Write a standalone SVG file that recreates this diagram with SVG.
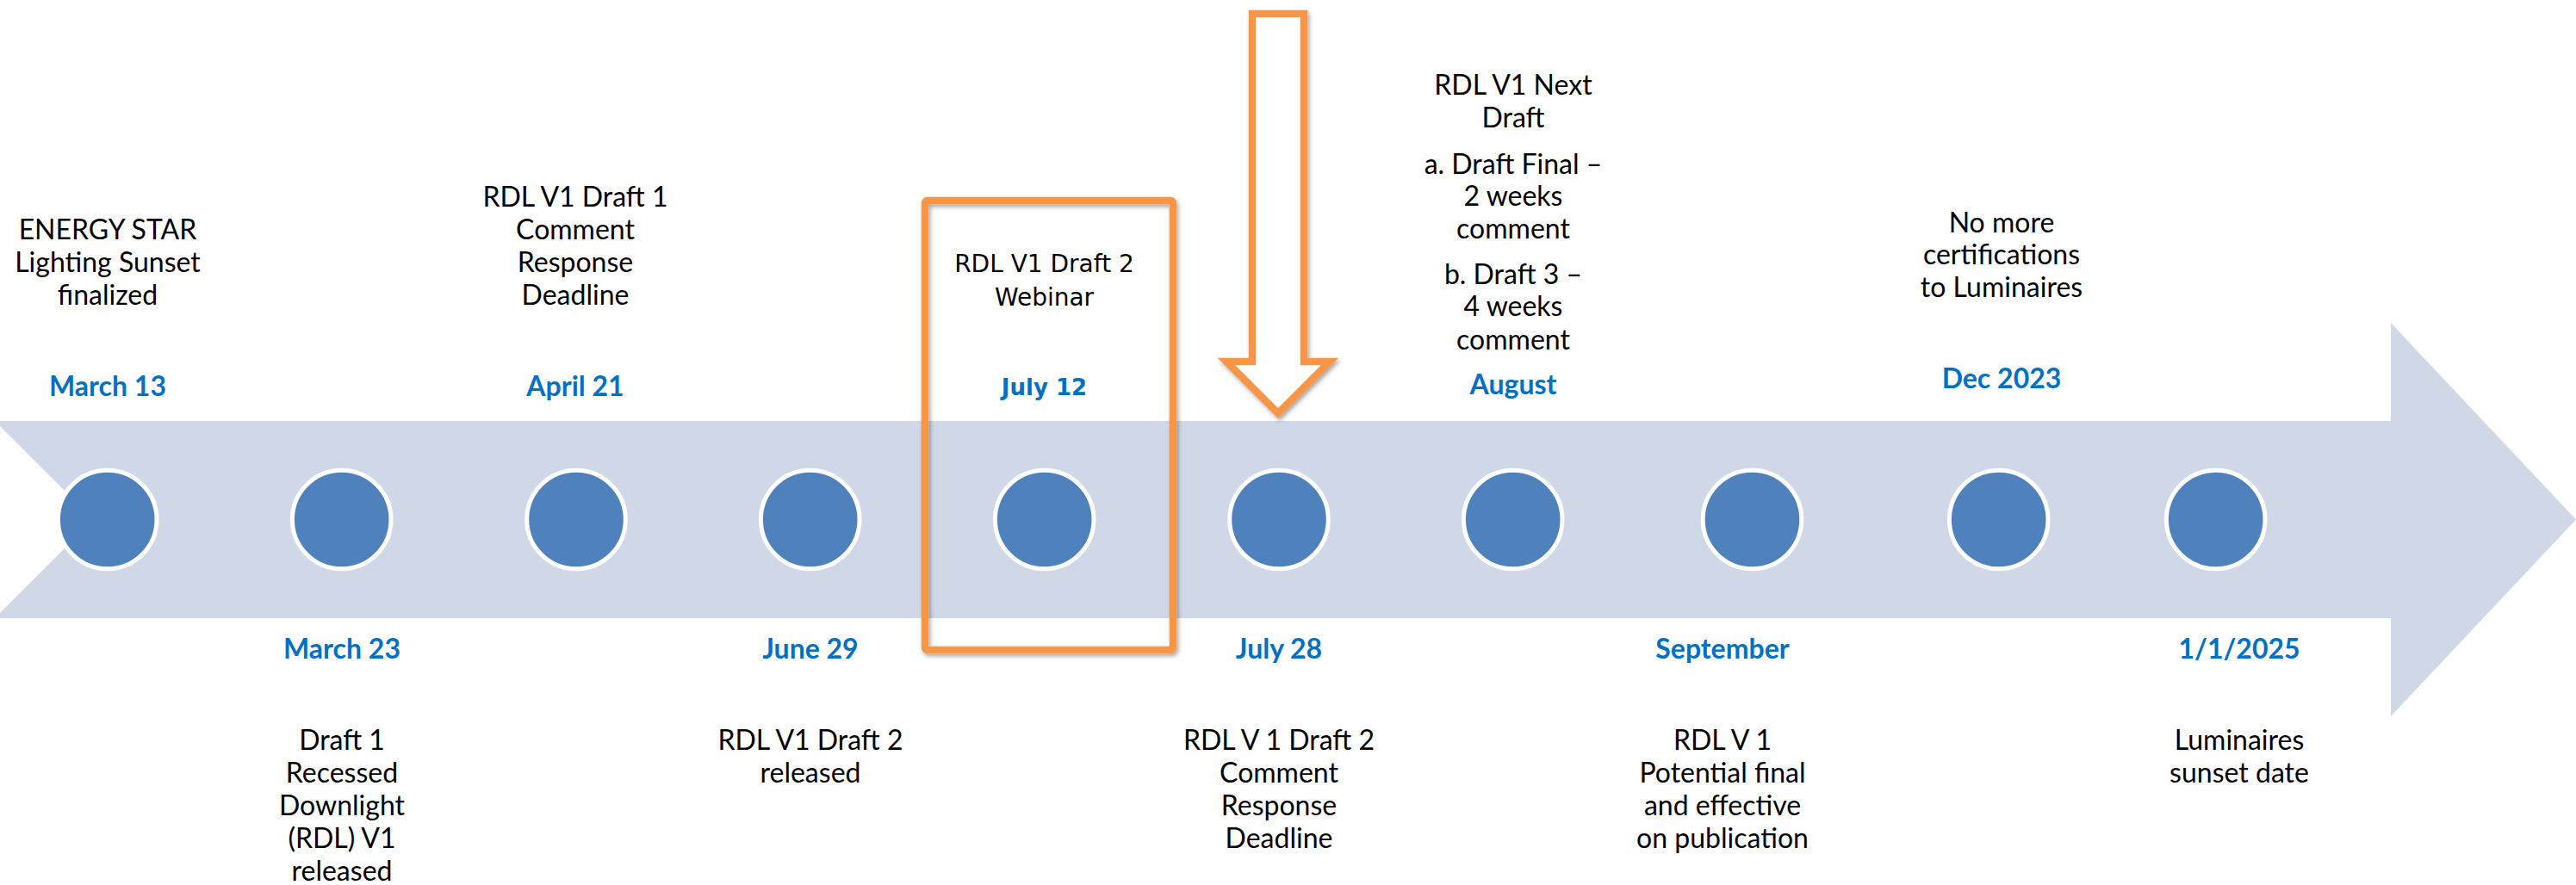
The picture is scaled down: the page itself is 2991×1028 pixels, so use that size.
<svg xmlns="http://www.w3.org/2000/svg" width="2991" height="1028" viewBox="0 0 2991 1028">
<defs>
<filter id="shadow" x="-20%" y="-10%" width="140%" height="130%">
<feDropShadow dx="2" dy="3" stdDeviation="2.5" flood-color="#000" flood-opacity="0.35"/>
</filter>
</defs>
<style>
.band{fill:#D0D8E8}
.dot{fill:#4F81BD;stroke:#FFFFFF;stroke-width:5}
.txt{font-family:Lato,"Liberation Sans",sans-serif;font-size:32px;fill:#000000;text-anchor:middle}
.date{font-family:Lato,"Liberation Sans",sans-serif;font-weight:bold;font-size:32px;fill:#0070C0;text-anchor:middle}
.vtxt{font-family:"DejaVu Sans",Verdana,sans-serif;font-size:28px;fill:#000000;text-anchor:middle}
.vdate{font-family:"DejaVu Sans",Verdana,sans-serif;font-weight:bold;font-size:26px;fill:#0070C0;text-anchor:middle}
.hl{fill:none;stroke:#F79646;stroke-width:8.5}
.callout{fill:#FFFFFF;stroke:#F79646;stroke-width:8.5;stroke-miterlimit:10}
</style>
<rect x="0" y="0" width="2991" height="1028" fill="#FFFFFF"/>

<g id="connectors">
<path id="timeline-arrow" class="band" d="M-6,489 L2776,489 L2776,375 L2991,603.5 L2776,832 L2776,718 L-6,718 L108.5,603.5 Z"/>
</g>

<g id="node-march13">
<circle class="dot" cx="124.7" cy="603.5" r="57.3"/>
<text class="date" x="125" y="460">March 13</text>
<text class="txt" x="125" y="278">ENERGY STAR</text>
<text class="txt" x="125" y="316">Lighting Sunset</text>
<text class="txt" x="125" y="354">finalized</text>
</g>

<g id="node-march23">
<circle class="dot" cx="396.7" cy="603.5" r="57.3"/>
<text class="date" x="397" y="765">March 23</text>
<text class="txt" x="397" y="871">Draft 1</text>
<text class="txt" x="397" y="909">Recessed</text>
<text class="txt" x="397" y="947">Downlight</text>
<text class="txt" x="397" y="985">(RDL) V1</text>
<text class="txt" x="397" y="1023">released</text>
</g>

<g id="node-april21">
<circle class="dot" cx="669" cy="603.5" r="57.3"/>
<text class="date" x="668" y="460">April 21</text>
<text class="txt" x="668" y="240">RDL V1 Draft 1</text>
<text class="txt" x="668" y="278">Comment</text>
<text class="txt" x="668" y="316">Response</text>
<text class="txt" x="668" y="354">Deadline</text>
</g>

<g id="node-june29">
<circle class="dot" cx="940.7" cy="603.5" r="57.3"/>
<text class="date" x="941" y="765">June 29</text>
<text class="txt" x="941" y="871">RDL V1 Draft 2</text>
<text class="txt" x="941" y="909">released</text>
</g>

<g id="node-july12">
<circle class="dot" cx="1212.7" cy="603.5" r="57.3"/>
<text class="vdate" x="1212.5" y="459">July 12</text>
<text class="vtxt" x="1212.5" y="316">RDL V1 Draft 2</text>
<text class="vtxt" x="1212.5" y="355">Webinar</text>
</g>

<g id="node-july28">
<circle class="dot" cx="1485" cy="603.5" r="57.3"/>
<text class="date" x="1485" y="765">July 28</text>
<text class="txt" x="1485" y="871">RDL V 1 Draft 2</text>
<text class="txt" x="1485" y="909">Comment</text>
<text class="txt" x="1485" y="947">Response</text>
<text class="txt" x="1485" y="985">Deadline</text>
</g>

<g id="node-august">
<circle class="dot" cx="1756.7" cy="603.5" r="57.3"/>
<text class="date" x="1757" y="458">August</text>
<text class="txt" x="1757" y="110">RDL V1 Next</text>
<text class="txt" x="1757" y="148">Draft</text>
<text class="txt" x="1757" y="202">a. Draft Final –</text>
<text class="txt" x="1757" y="239">2 weeks</text>
<text class="txt" x="1757" y="277">comment</text>
<text class="txt" x="1757" y="330">b. Draft 3 –</text>
<text class="txt" x="1757" y="367">4 weeks</text>
<text class="txt" x="1757" y="406">comment</text>
</g>

<g id="node-september">
<circle class="dot" cx="2034.5" cy="603.5" r="57.3"/>
<text class="date" x="2000" y="765">September</text>
<text class="txt" x="2000" y="871">RDL V 1</text>
<text class="txt" x="2000" y="909">Potential final</text>
<text class="txt" x="2000" y="947">and effective</text>
<text class="txt" x="2000" y="985">on publication</text>
</g>

<g id="node-dec2023">
<circle class="dot" cx="2320.7" cy="603.5" r="57.3"/>
<text class="date" x="2324" y="451">Dec 2023</text>
<text class="txt" x="2324" y="270">No more</text>
<text class="txt" x="2324" y="307">certifications</text>
<text class="txt" x="2324" y="345">to Luminaires</text>
</g>

<g id="node-2025">
<circle class="dot" cx="2572.7" cy="603.5" r="57.3"/>
<text class="date" x="2600" y="765">1/1/2025</text>
<text class="txt" x="2600" y="871">Luminaires</text>
<text class="txt" x="2600" y="909">sunset date</text>
</g>

<g id="highlight-box">
<rect class="hl" x="1074" y="233" width="288" height="522" rx="3" filter="url(#shadow)"/>
</g>

<g id="callout-arrow">
<path class="callout" d="M1454,16 L1514,16 L1514,420 L1544,420 L1484,480 L1424,420 L1454,420 Z" filter="url(#shadow)"/>
</g>
</svg>
